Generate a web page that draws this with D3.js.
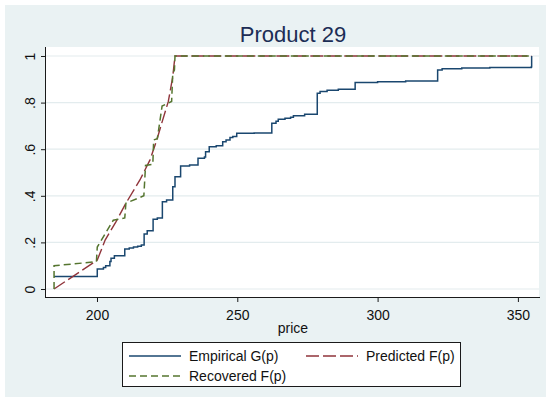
<!DOCTYPE html>
<html>
<head>
<meta charset="utf-8">
<script src="https://cdn.jsdelivr.net/npm/d3@7"></script>
<style>
  html, body { margin: 0; padding: 0; background: #ffffff; }
  svg { display: block; font-family: "Liberation Sans", Arial, Helvetica, sans-serif; }
</style>
</head>
<body>
<svg id="chart" width="550" height="402"></svg>
<script>
// Empirical price distribution G(p) (step function)
const empiricalPrice = [184.7, 200.1, 202.3, 203.1, 204.6, 205.0, 206.2, 209.9, 211.5, 213.0,
  214.5, 215.8, 216.8, 217.9, 220.0, 221.5, 223.3, 224.8, 227.0, 227.8,
  229.8, 233.0, 236.0, 238.3, 238.7, 240.0, 242.5, 244.8, 246.0, 247.4,
  248.4, 249.8, 256.0, 262.3, 263.8, 264.6, 267.0, 269.0, 270.0, 274.0,
  278.5, 279.5, 282.0, 286.0, 292.0, 300.0, 310.0, 321.4, 323.0, 330.0,
  340.0, 354.8, 354.9];
const empiricalG = [0.054, 0.086, 0.092, 0.100, 0.118, 0.132, 0.143, 0.172, 0.176, 0.180,
  0.184, 0.189, 0.236, 0.250, 0.299, 0.305, 0.375, 0.382, 0.439, 0.482,
  0.528, 0.532, 0.561, 0.566, 0.589, 0.611, 0.615, 0.632, 0.640, 0.650,
  0.655, 0.668, 0.670, 0.711, 0.720, 0.728, 0.733, 0.737, 0.744, 0.750,
  0.840, 0.848, 0.853, 0.857, 0.886, 0.889, 0.893, 0.940, 0.945, 0.948,
  0.951, 0.954, 1.000];

// Predicted F(p)
const predictedPrice = [184.7, 200.1, 202.9, 206.8, 210.3, 215.3, 218.9, 221.3, 223.4, 225.4, 227.0, 227.8, 354.9];
const predictedF = [0, 0.124, 0.210, 0.289, 0.368, 0.468, 0.554, 0.639, 0.725, 0.804, 0.911, 1, 1];

// Recovered F(p)
const recoveredPrice = [184.7, 184.7, 199.8, 200.1, 205.8, 209.9, 210.3, 216.7, 217.3, 219.9,
  220.2, 221.5, 223.2, 226.6, 227.0, 227.6, 227.8, 354.9];
const recoveredF = [0, 0.100, 0.117, 0.180, 0.295, 0.305, 0.368, 0.400, 0.530, 0.535,
  0.640, 0.645, 0.785, 0.805, 0.926, 0.940, 1, 1];

const xTicks = [200, 250, 300, 350];
const yTicks = [0, 0.2, 0.4, 0.6, 0.8, 1];
const yTickLabels = ["0", ".2", ".4", ".6", ".8", "1"];

const titleText = "Product 29";
const xTitle = "price";
const legendLabels = ["Empirical G(p)", "Predicted F(p)", "Recovered F(p)"];

const colors = { empirical: "#1a476f", predicted: "#90353b", recovered: "#55752f" };

const svg = d3.select("#chart");
const plot = { left: 46, right: 539, top: 47, bottom: 297 };

// outer graph region
svg.append("rect").attr("x", 5).attr("y", 5).attr("width", 541).attr("height", 392)
  .attr("fill", "#eaf2f3");
// plot region
svg.append("rect").attr("x", plot.left).attr("y", plot.top)
  .attr("width", plot.right - plot.left).attr("height", plot.bottom - plot.top)
  .attr("fill", "#ffffff");

const x = d3.scaleLinear().domain([181.83, 357.52]).range([plot.left, plot.right]);
const y = d3.scaleLinear().domain([-0.0343, 1.0386]).range([plot.bottom, plot.top]);

// horizontal grid lines
svg.append("g").selectAll("line").data(yTicks).join("line")
  .attr("x1", plot.left).attr("x2", plot.right)
  .attr("y1", d => y(d)).attr("y2", d => y(d))
  .attr("stroke", "#e3ecee").attr("stroke-width", 1.2);

// title
svg.append("text").attr("x", 293).attr("y", 42).attr("text-anchor", "middle")
  .attr("font-size", 22).attr("fill", "#1c2d55").text(titleText);

// axes
const xAxis = svg.append("g").attr("transform", `translate(0,${plot.bottom})`)
  .call(d3.axisBottom(x).tickValues(xTicks).tickSize(5).tickPadding(5).tickFormat(d3.format("d")));
xAxis.select(".domain").attr("d", `M${plot.left},0.5H${plot.right + 1}`);

const yAxis = svg.append("g").attr("transform", `translate(${plot.left},0)`)
  .call(d3.axisLeft(y).tickValues(yTicks).tickSize(5).tickPadding(0)
    .tickFormat((d, i) => yTickLabels[i]));
yAxis.select(".domain").attr("d", `M-0.5,${plot.top}V${plot.bottom + 1}`);

[xAxis, yAxis].forEach(g => {
  g.select(".domain").attr("stroke", "#1a1a1a").attr("stroke-width", 1);
  g.selectAll(".tick line").attr("stroke", "#1a1a1a");
  g.selectAll(".tick text").attr("font-size", 14).attr("fill", "#111")
    .attr("font-family", "\"Liberation Sans\", Arial, sans-serif");
});
xAxis.selectAll(".tick text").attr("dy", "0.9em");
yAxis.selectAll(".tick text")
  .attr("text-anchor", "middle").attr("x", 0).attr("dy", 0)
  .attr("transform", "translate(-16,0) rotate(-90)")
  .attr("dominant-baseline", "central");

// x-axis title
svg.append("text").attr("x", 293).attr("y", 333).attr("text-anchor", "middle")
  .attr("font-size", 14).attr("fill", "#111").text(xTitle);

// series
const clip = svg.append("clipPath").attr("id", "clip").append("rect")
  .attr("x", plot.left).attr("y", plot.top)
  .attr("width", plot.right - plot.left).attr("height", plot.bottom - plot.top);

const lineStep = d3.line().x(d => x(d[0])).y(d => y(d[1])).curve(d3.curveStepAfter);
const lineLin = d3.line().x(d => x(d[0])).y(d => y(d[1]));

const empData = empiricalPrice.map((p, i) => [p, empiricalG[i]]);
const predData = predictedPrice.map((p, i) => [p, predictedF[i]]);
const recData = recoveredPrice.map((p, i) => [p, recoveredF[i]]);

const series = svg.append("g").attr("clip-path", "url(#clip)");
series.append("path").datum(empData).attr("d", lineStep)
  .attr("fill", "none").attr("stroke", colors.empirical).attr("stroke-width", 1.5);
series.append("path").datum(predData).attr("d", lineLin)
  .attr("fill", "none").attr("stroke", colors.predicted).attr("stroke-width", 1.4)
  .attr("stroke-dasharray", "13,4");
series.append("path").datum(recData).attr("d", lineLin)
  .attr("fill", "none").attr("stroke", colors.recovered).attr("stroke-width", 1.5)
  .attr("stroke-dasharray", "7,4");

// legend
const legend = svg.append("g");
legend.append("rect").attr("x", 122.5).attr("y", 342.5).attr("width", 338).attr("height", 44)
  .attr("fill", "#ffffff").attr("stroke", "#1a1a1a").attr("stroke-width", 1);
const legendItems = [
  { label: legendLabels[0], color: colors.empirical, dash: null, lx: 129, ty: 356 },
  { label: legendLabels[1], color: colors.predicted, dash: "13,4", lx: 306, ty: 356 },
  { label: legendLabels[2], color: colors.recovered, dash: "7,4", lx: 129, ty: 376 }
];
legendItems.forEach(it => {
  legend.append("line").attr("x1", it.lx).attr("x2", it.lx + 52)
    .attr("y1", it.ty).attr("y2", it.ty)
    .attr("stroke", it.color).attr("stroke-width", 1.5)
    .attr("stroke-dasharray", it.dash);
  legend.append("text").attr("x", it.lx + 60).attr("y", it.ty + 5)
    .attr("font-size", 14).attr("fill", "#111").text(it.label);
});
</script>
</body>
</html>
